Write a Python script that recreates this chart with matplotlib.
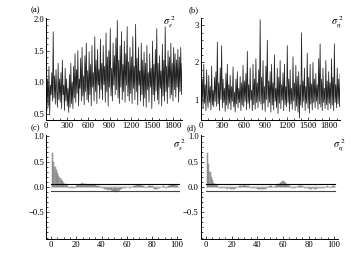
import numpy as np
import matplotlib
matplotlib.use("Agg")
import matplotlib.pyplot as plt
from matplotlib.ticker import MultipleLocator

plt.rcParams['font.family'] = ['Liberation Serif', 'DejaVu Serif']
plt.rcParams['mathtext.fontset'] = 'stix'

# trace of sigma_eps^2, one value every 10 iterations
trace_eps = [
    0.72, 0.55, 1.05, 0.62, 1.25, 0.48, 0.95, 0.80, 1.15, 0.70, 1.80, 0.75, 1.10, 0.65, 1.20, 0.85, 0.60, 1.30, 0.72, 1.05,
    0.68, 1.15, 0.58, 1.35, 0.80, 0.95, 0.55, 1.22, 0.70, 1.05, 0.62, 0.90, 0.52, 1.12, 0.60, 1.30, 0.66, 1.00, 0.58, 1.25,
    0.75, 1.45, 0.68, 1.20, 0.82, 1.50, 0.62, 1.05, 0.90, 1.38, 0.70, 1.55, 0.78, 1.10, 0.64, 1.42, 0.85, 1.62, 0.72, 1.18,
    0.68, 1.48, 0.80, 1.28, 0.62, 1.58, 0.92, 1.15, 0.70, 1.72, 0.85, 1.35, 0.66, 1.52, 0.95, 1.20, 0.74, 1.68, 0.88, 1.30,
    0.72, 1.58, 0.96, 1.25, 0.68, 1.78, 0.85, 1.40, 0.62, 1.50, 0.92, 1.85, 0.78, 1.22, 0.70, 1.62, 0.95, 1.42, 0.80, 1.70,
    0.88, 1.98, 0.75, 1.35, 0.66, 1.58, 0.92, 1.80, 0.72, 1.28, 0.85, 1.65, 0.68, 1.45, 0.95, 1.88, 0.78, 1.32, 0.70, 1.55,
    0.82, 1.40, 0.66, 1.72, 0.90, 1.25, 0.72, 1.92, 0.85, 1.38, 0.64, 1.55, 0.95, 1.18, 0.70, 1.62, 0.80, 1.35, 0.62, 1.48,
    0.75, 1.30, 0.60, 1.58, 0.88, 1.15, 0.68, 1.45, 0.92, 1.22, 0.58, 1.65, 0.80, 1.28, 0.70, 1.52, 0.86, 1.85, 0.72, 1.30,
    0.65, 1.42, 0.90, 1.18, 0.62, 1.60, 0.78, 1.35, 0.70, 1.88, 0.85, 1.25, 0.66, 1.50, 0.92, 1.40, 0.74, 1.62, 0.80, 1.30,
    0.70, 1.55, 0.88, 1.45, 0.76, 1.35, 0.92, 1.52, 0.68, 1.40, 0.85, 1.55, 0.80, 1.30, 1.05, 1.50,
]

# trace of sigma_eta^2
trace_eta = [
    1.20, 0.85, 1.55, 0.75, 1.95, 0.90, 1.40, 0.70, 1.80, 1.05, 0.78, 1.65, 0.92, 1.35, 0.72, 1.90, 0.85, 1.25, 0.80, 1.60,
    0.95, 1.75, 0.82, 2.55, 0.88, 1.45, 0.70, 1.85, 1.00, 2.45, 0.78, 1.55, 0.92, 1.30, 0.68, 1.70, 0.85, 1.95, 0.75, 1.40,
    0.90, 1.65, 0.72, 1.35, 0.95, 1.88, 0.80, 1.20, 0.66, 1.55, 0.88, 1.75, 0.78, 1.30, 0.92, 1.62, 0.70, 1.45, 0.85, 1.92,
    0.80, 1.50, 0.95, 1.70, 0.72, 2.30, 0.90, 1.40, 0.76, 1.85, 0.98, 1.25, 0.70, 1.95, 0.86, 1.55, 0.74, 2.10, 0.92, 1.45,
    0.78, 1.80, 0.95, 3.15, 0.88, 1.60, 0.72, 2.05, 0.90, 1.35, 0.68, 1.90, 1.00, 2.60, 0.80, 1.50, 0.92, 1.75, 0.66, 1.95,
    0.85, 1.45, 0.72, 2.20, 0.95, 1.30, 0.78, 1.85, 0.62, 1.60, 0.90, 2.05, 0.75, 1.40, 0.98, 1.72, 0.70, 1.95, 0.86, 1.35,
    0.80, 2.45, 0.92, 1.55, 0.68, 1.80, 0.88, 1.30, 0.74, 2.15, 0.96, 1.45, 0.70, 1.92, 0.82, 1.62, 0.66, 1.75, 0.50, 1.40,
    0.85, 2.80, 0.78, 1.50, 0.95, 1.85, 0.70, 1.35, 0.90, 2.25, 0.76, 1.60, 0.64, 1.95, 0.88, 1.42, 0.72, 2.00, 0.92, 1.55,
    0.78, 1.70, 0.95, 1.40, 0.74, 2.10, 0.88, 2.50, 0.80, 1.55, 0.70, 1.85, 0.92, 1.30, 0.76, 2.05, 0.86, 1.50, 0.72, 1.75,
    0.90, 1.45, 0.76, 2.10, 0.85, 1.60, 0.70, 2.50, 0.92, 1.40, 0.78, 1.85, 0.88, 1.55, 0.80, 1.70,
]
iters = np.arange(len(trace_eps)) * 10

lags = np.arange(1, 101)
acf_eps = [
    0.68, 0.50, 0.40, 0.33, 0.27, 0.22, 0.17, 0.14, 0.11, 0.08,
    0.06, 0.04, 0.02, 0.00, -0.01, -0.02, -0.02, -0.01, 0.00, 0.02,
    0.03, 0.04, 0.05, 0.06, 0.07, 0.06, 0.05, 0.05, 0.04, 0.04,
    0.05, 0.04, 0.04, 0.03, 0.03, 0.02, 0.02, 0.01, 0.00, -0.01,
    -0.02, -0.03, -0.04, -0.04, -0.05, -0.04, -0.05, -0.06, -0.07, -0.08,
    -0.09, -0.08, -0.07, -0.05, -0.04, -0.03, -0.02, -0.02, -0.01, 0.00,
    0.00, -0.01, -0.01, 0.00, 0.01, 0.01, 0.02, 0.03, 0.03, 0.04,
    0.03, 0.02, 0.01, 0.00, -0.01, 0.00, 0.01, 0.02, 0.02, 0.01,
    -0.01, -0.03, -0.04, -0.03, -0.02, -0.01, 0.00, 0.00, 0.01, 0.00,
    -0.01, 0.00, 0.01, 0.02, 0.03, 0.04, 0.03, 0.04, 0.03, 0.02,
]
acf_eta = [
    0.68, 0.45, 0.30, 0.20, 0.13, 0.08, 0.05, 0.03, 0.01, 0.00,
    -0.01, -0.02, -0.02, -0.01, -0.02, -0.02, -0.03, -0.02, -0.03, -0.03,
    -0.04, -0.03, -0.02, -0.01, 0.00, 0.01, 0.01, 0.02, 0.02, 0.03,
    0.02, 0.02, 0.01, 0.00, -0.01, -0.02, -0.02, -0.01, -0.02, -0.03,
    -0.03, -0.04, -0.04, -0.03, -0.04, -0.03, -0.02, -0.01, 0.00, 0.01,
    0.01, 0.00, 0.00, 0.01, 0.02, 0.04, 0.06, 0.08, 0.10, 0.11,
    0.10, 0.08, 0.06, 0.04, 0.02, 0.00, -0.01, -0.02, -0.02, -0.01,
    0.00, 0.01, 0.02, 0.02, 0.01, 0.00, -0.01, -0.01, -0.02, -0.02,
    -0.03, -0.03, -0.02, -0.02, -0.03, -0.03, -0.02, -0.02, -0.01, -0.02,
    -0.01, -0.01, 0.00, 0.00, 0.01, 0.00, -0.01, 0.00, 0.01, 0.01,
]
band_hi = 0.06
band_lo = -0.07

fig = plt.figure(figsize=(3.55, 2.59), dpi=100)
ax_a = fig.add_axes([0.130, 0.537, 0.383, 0.394])
ax_b = fig.add_axes([0.566, 0.537, 0.392, 0.394])
ax_c = fig.add_axes([0.130, 0.077, 0.380, 0.402])
ax_d = fig.add_axes([0.566, 0.077, 0.386, 0.402])


def style(ax):
    for s in ['top', 'right']:
        ax.spines[s].set_visible(False)
    for s in ['left', 'bottom']:
        ax.spines[s].set_linewidth(0.7)
    ax.tick_params(which='both', direction='in', labelsize=6.2, pad=1.5, width=0.5)
    ax.tick_params(which='major', length=2.5)
    ax.tick_params(which='minor', length=1.3)


ax_a.plot(iters, trace_eps, color='#222222', lw=0.55)
ax_a.set_xlim(0, 1930)
ax_a.set_ylim(0.4, 2.02)
ax_a.set_yticks([0.5, 1.0, 1.5, 2.0])
ax_a.yaxis.set_minor_locator(MultipleLocator(0.1))

ax_b.plot(iters, trace_eta, color='#222222', lw=0.55)
ax_b.set_xlim(0, 1950)
ax_b.set_ylim(0.45, 3.2)
ax_b.set_yticks([1, 2, 3])
ax_b.yaxis.set_minor_locator(MultipleLocator(0.2))

for ax in (ax_a, ax_b):
    ax.set_xticks(np.arange(0, 1801, 300))
    ax.xaxis.set_minor_locator(MultipleLocator(100))
    style(ax)

for ax, acf in ((ax_c, acf_eps), (ax_d, acf_eta)):
    ax.bar(lags, acf, width=1.0, color='#a8a8a8', edgecolor='#777777', linewidth=0.3)
    ax.plot([0, 101], [band_hi, band_hi], color='black', lw=0.8)
    ax.plot([0, 101], [band_lo, band_lo], color='#444444', lw=0.8)
    ax.plot([0, 101], [0, 0], color='#bbbbbb', lw=0.5)
    ax.set_xlim(-4, 103)
    ax.set_ylim(-1.03, 1.03)
    ax.set_xticks(np.arange(0, 101, 20))
    ax.xaxis.set_minor_locator(MultipleLocator(5))
    ax.set_yticks([-0.5, 0.0, 0.5, 1.0])
    ax.yaxis.set_minor_locator(MultipleLocator(0.1))
    style(ax)

fig.text(0.085, 0.953, '(a)', fontsize=6.2)
fig.text(0.530, 0.953, '(b)', fontsize=6.2)
fig.text(0.085, 0.497, '(c)', fontsize=6.2)
fig.text(0.527, 0.497, '(d)', fontsize=6.2)

fig.text(0.458, 0.903, r'$\sigma_\varepsilon^{\ 2}$', fontsize=7.5)
fig.text(0.932, 0.903, r'$\sigma_\eta^{\ 2}$', fontsize=7.5)
fig.text(0.488, 0.428, r'$\sigma_\varepsilon^{\ 2}$', fontsize=7.5)
fig.text(0.938, 0.428, r'$\sigma_\eta^{\ 2}$', fontsize=7.5)

fig.savefig('out.png', dpi=100)
